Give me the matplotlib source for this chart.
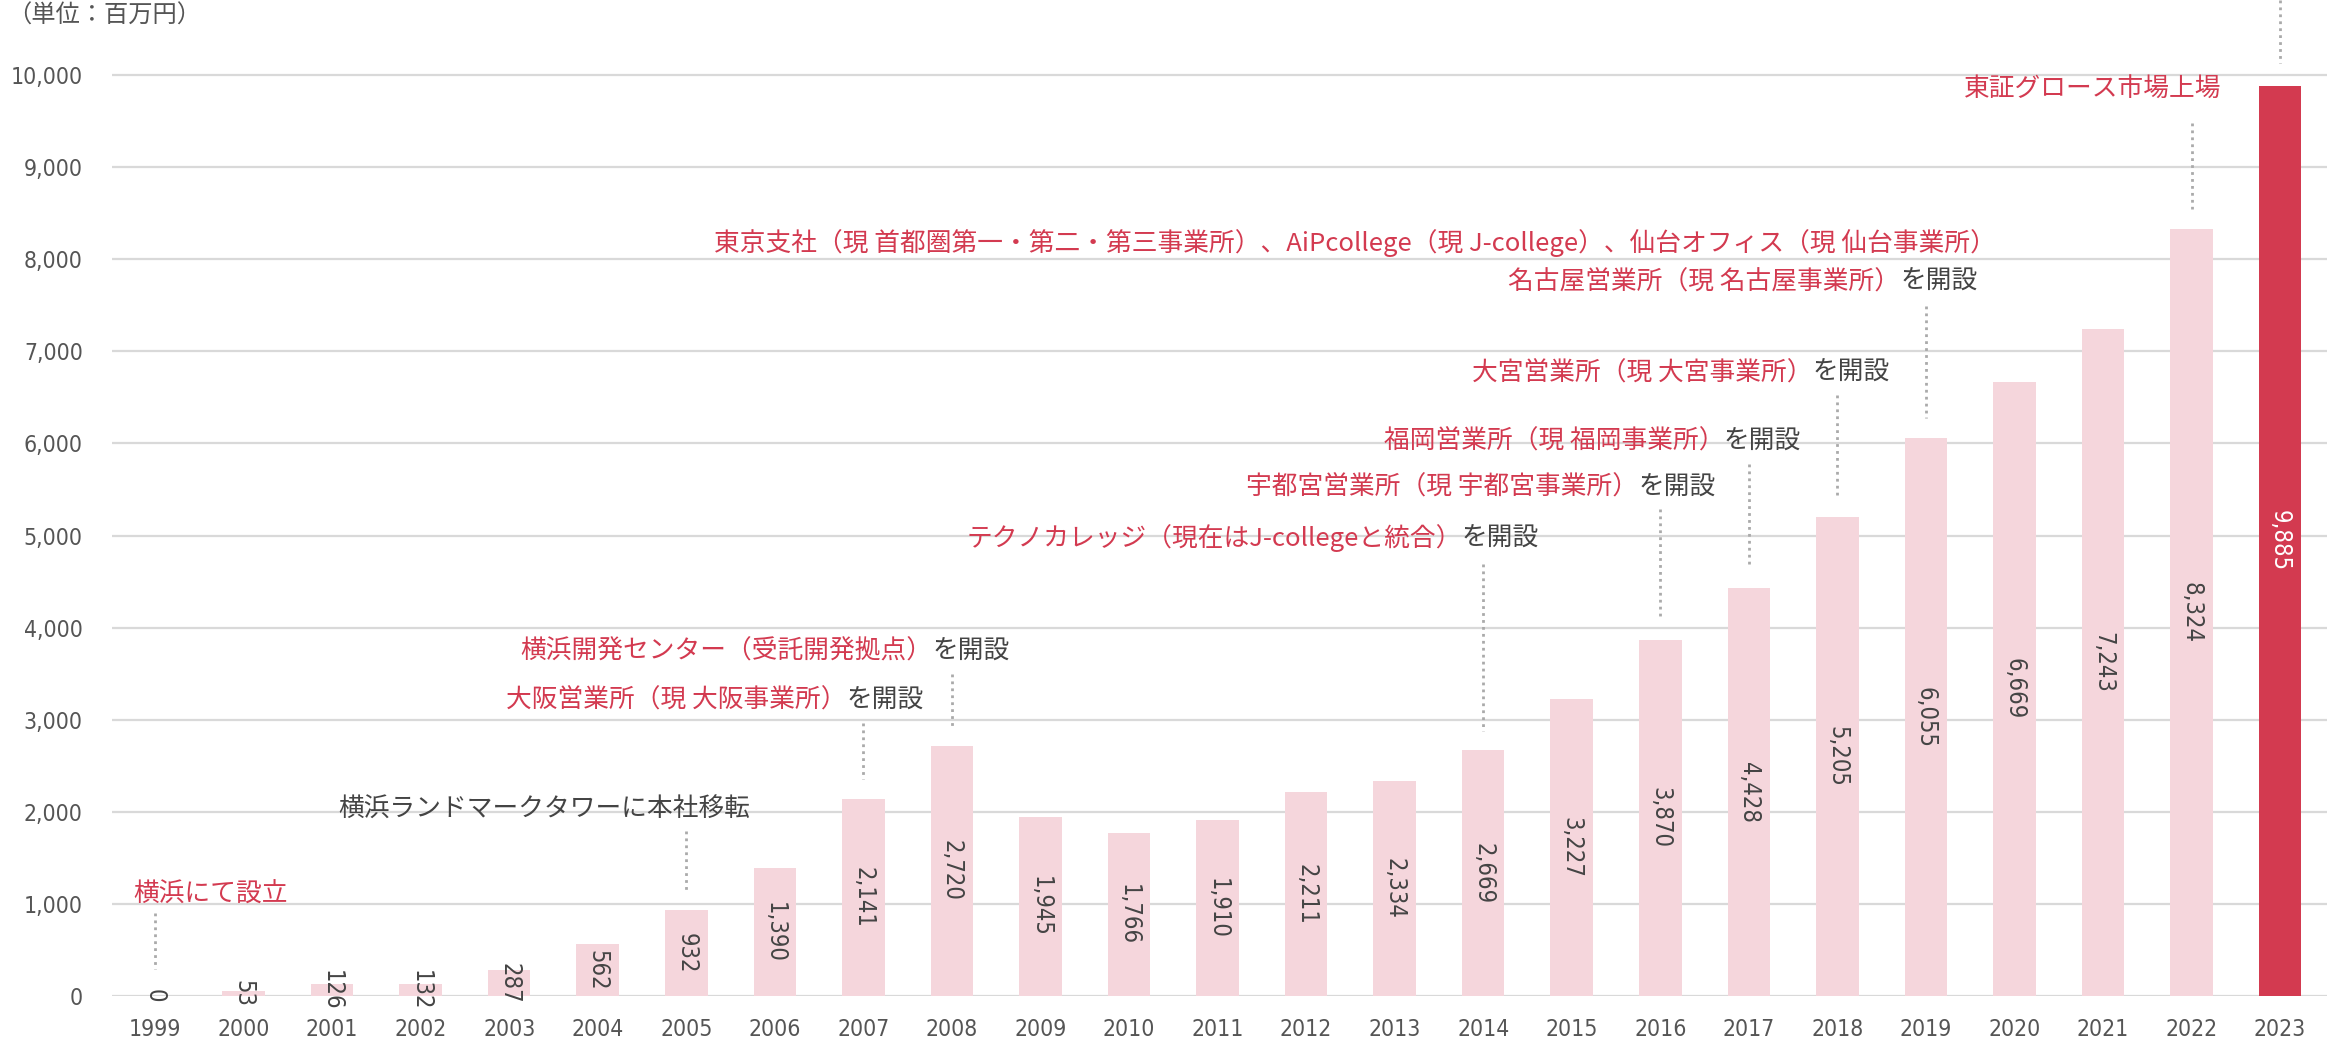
import matplotlib
matplotlib.use("Agg")
import matplotlib.pyplot as plt
from matplotlib.ticker import FuncFormatter

# sales, unit: million yen
years = list(range(1999, 2024))
sales = [0, 53, 126, 132, 287, 562, 932, 1390, 2141, 2720, 1945, 1766, 1910,
         2211, 2334, 2669, 3227, 3870, 4428, 5205, 6055, 6669, 7243, 8324, 9885]

# company events: year, red part, gray part
event_years = [1999, 2005, 2007, 2008, 2014, 2016, 2017, 2018, 2019, 2019, 2022, 2023]
event_red = ["横浜にて設立",
             "",
             "大阪営業所（現 大阪事業所）",
             "横浜開発センター（受託開発拠点）",
             "テクノカレッジ（現在はJ-collegeと統合）",
             "宇都宮営業所（現 宇都宮事業所）",
             "福岡営業所（現 福岡事業所）",
             "大宮営業所（現 大宮事業所）",
             "東京支社（現 首都圏第一・第二・第三事業所）、AiPcollege（現 J-college）、仙台オフィス（現 仙台事業所）",
             "名古屋営業所（現 名古屋事業所）",
             "東証グロース市場上場",
             ""]
event_gray = ["", "横浜ランドマークタワーに本社移転", "を開設", "を開設", "を開設", "を開設",
              "を開設", "を開設", "", "を開設", "", ""]

# layout of each event label: (x offset from bar, anchor, text y, leader top, leader bottom)
layout = [(-0.24, "left", 1100, 906, 291),
          (0.72, "right", 2023, 1796, 1149),
          (-0.19, "join", 3204, 2961, 2362),
          (-0.22, "join", 3738, 3495, 2896),
          (-0.24, "join", 4968, 4693, 2880),
          (-0.25, "join", 5518, 5291, 4094),
          (-0.28, "join", 6019, 5777, 4644),
          (-0.28, "join", 6764, 6521, 5421),
          (0.79, "right", 8172, None, None),
          (-0.29, "join", 7751, 7492, 6278),
          (0.34, "right", 9838, 9482, 8544),
          (0, "none", None, 10815, 10130)]

RED = "#d33a50"
PINK = "#f5d6dc"
TXT = "#444444"
JP = ["Noto Sans CJK JP", "DejaVu Sans"]
FS = 18.5

fig = plt.figure(figsize=(23.38, 10.42), dpi=100)
ax = fig.add_axes([0.0479, 0.0441, 0.9474, 0.9559])

colors = [PINK] * (len(years) - 1) + [RED]
ax.bar(years, sales, width=0.48, color=colors, zorder=2)

for x, v, c in zip(years, sales, colors):
    ax.text(x, v / 2, f"{v:,}", rotation=-90, ha="center", va="center",
            fontsize=17, fontstretch="condensed",
            color="white" if c == RED else TXT, zorder=3)

for yr, red, gray, (dx, anchor, ty, l0, l1) in zip(event_years, event_red, event_gray, layout):
    if l0 is not None:
        ax.plot([yr, yr], [l0, l1], color="#aaaaaa", lw=2, ls=(0, (1, 1.5)),
                zorder=1, clip_on=False)
    if ty is None:
        continue
    x = yr + dx
    if anchor == "left":
        ax.text(x, ty, red, ha="left", va="center", color=RED, fontsize=FS, family=JP)
    elif anchor == "right":
        ax.text(x, ty, red or gray, ha="right", va="center",
                color=RED if red else TXT, fontsize=FS, family=JP)
    else:
        ax.text(x, ty, red, ha="right", va="center", color=RED, fontsize=FS, family=JP)
        ax.text(x, ty, gray, ha="left", va="center", color=TXT, fontsize=FS, family=JP)

ax.set_xlim(1998.514, 2023.53)
ax.set_ylim(0, 10815)
ax.set_xticks(years)
ax.set_yticks(range(0, 10001, 1000))
ax.yaxis.set_major_formatter(FuncFormatter(lambda v, p: f"{int(v):,}"))
ax.tick_params(length=0, labelsize=16.5, labelcolor="#555555")
ax.tick_params(axis="y", pad=21)
ax.tick_params(axis="x", pad=16)
for lab in ax.get_xticklabels() + ax.get_yticklabels():
    lab.set_fontstretch("condensed")
    lab.set_fontweight("medium")
ax.yaxis.grid(True, color="#d9d9d9", lw=1.6, zorder=0)
ax.set_axisbelow(True)
for s in ax.spines.values():
    s.set_visible(False)

fig.text(0.003, 0.985, "（単位：百万円）", ha="left", va="center", fontsize=17.5,
         color="#555555", family=JP)

fig.savefig("out.png", dpi=100)
